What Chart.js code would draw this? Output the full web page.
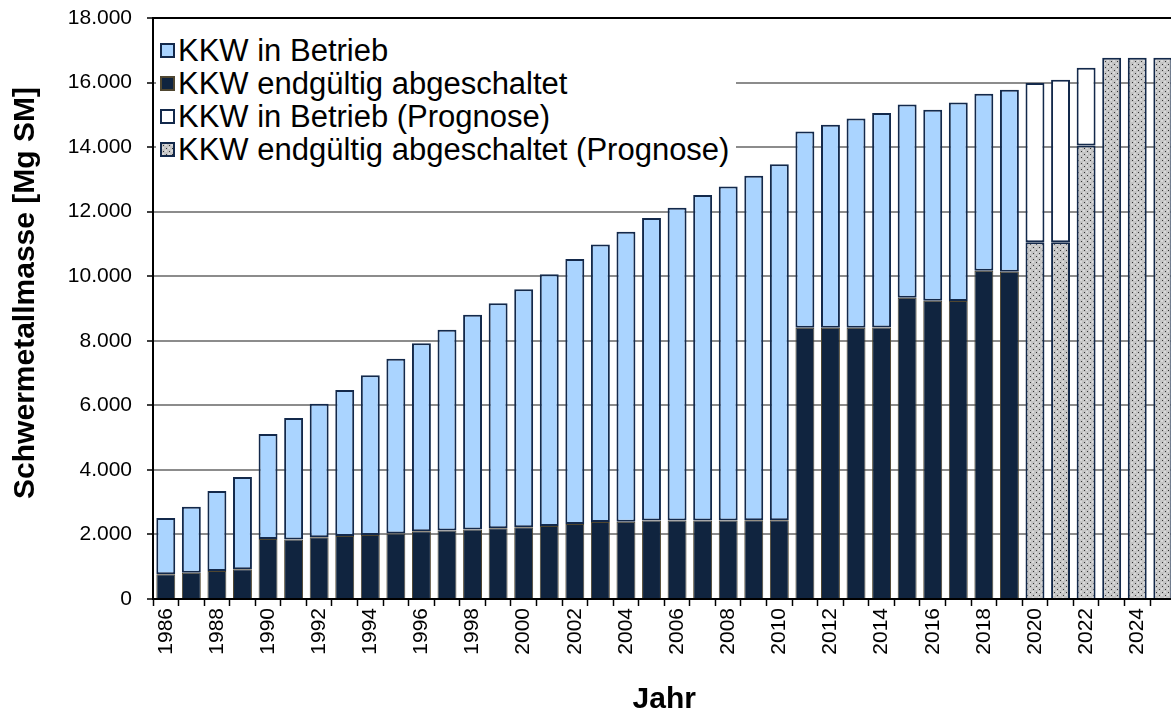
<!DOCTYPE html>
<html lang="de">
<head>
<meta charset="utf-8">
<title>Schwermetallmasse</title>
<script src="https://cdn.jsdelivr.net/npm/chart.js@4.4.1/dist/chart.umd.min.js"></script>
<style>
  html, body { margin: 0; padding: 0; background: #fff; overflow: hidden; }
  #wrap { position: relative; width: 1190px; height: 716px; }
  #smLegend {
    position: absolute;
    left: 156px;
    top: 21px;
    width: 580px;
    height: 162px;
    margin: 0;
    padding: 13px 0 0 4px;
    box-sizing: border-box;
    list-style: none;
    background: #fff;
    font: 31px "Liberation Sans", Arial, sans-serif;
    color: #000;
  }
  #smLegend li { display: flex; align-items: center; height: 33px; white-space: nowrap; }
  .sm-swatch { width: 11px; height: 11px; margin-right: 3px; border: 2px solid #13294b; flex: none; }
</style>
</head>
<body>
<div id="wrap">
  <canvas id="smChart" width="1190" height="716"></canvas>
  <ul id="smLegend"></ul>
</div>
<script>
// Schwermetallmasse abgebrannter Brennelemente, 1986-2019 plus Prognose bis 2025

const YEARS = [
  "1986", "1987", "1988", "1989", "1990", "1991", "1992", "1993", "1994", "1995",
  "1996", "1997", "1998", "1999", "2000", "2001", "2002", "2003", "2004", "2005",
  "2006", "2007", "2008", "2009", "2010", "2011", "2012", "2013", "2014", "2015",
  "2016", "2017", "2018", "2019"
];
const FORECAST_YEARS = ["2020", "2021", "2022", "2023", "2024", "2025"];

// Mg SM
const SHUTDOWN = [
  770, 815, 870, 920, 1860, 1845, 1910, 1950, 1985, 2030,
  2100, 2125, 2155, 2190, 2220, 2260, 2320, 2385, 2395, 2430,
  2430, 2430, 2435, 2440, 2440, 8400, 8400, 8400, 8410, 9330,
  9240, 9230, 10170, 10140
];
const OPERATING = [
  1740, 2045, 2475, 2860, 3250, 3765, 4140, 4525, 4945, 5410,
  5820, 6215, 6655, 6970, 7380, 7800, 8210, 8600, 8985, 9370,
  9695, 10085, 10345, 10670, 11030, 6085, 6290, 6485, 6650, 5990,
  5915, 6150, 5480, 5635
];
const SHUTDOWN_FORECAST = [11050, 11050, 14050, 16770, 16770, 16770];
const OPERATING_FORECAST = [4940, 5035, 2405, null, null, null];

const Y_MAX = 18000;
const Y_STEP = 2000;
const Y_TITLE = "Schwermetallmasse [Mg SM]";
const X_TITLE = "Jahr";

const FONT = '"Liberation Sans", Arial, sans-serif';
const NAVY = "#13294b";
const GRID_GRAY = "#8c8c8c";

// legend shows the series in this order (dataset indexes)
const LEGEND_ORDER = [1, 0, 3, 2];

function formatThousands(value) {
  return String(value).replace(/\B(?=(\d{3})+(?!\d))/g, ".");
}

function makeDotTile() {
  const tile = document.createElement("canvas");
  tile.width = 6;
  tile.height = 6;
  const t = tile.getContext("2d");
  t.fillStyle = "#c4c4c4";
  t.fillRect(0, 0, 6, 6);
  t.fillStyle = "#d8d8d8";
  t.fillRect(3, 0, 2, 2);
  t.fillRect(0, 3, 2, 2);
  t.fillStyle = "#333333";
  t.fillRect(1, 1, 1, 1);
  t.fillRect(4, 4, 1, 1);
  return tile;
}

const canvas = document.getElementById("smChart");
const ctx = canvas.getContext("2d");
const dotTile = makeDotTile();
const dotPattern = ctx.createPattern(dotTile, "repeat");

const labels = [...YEARS, ...FORECAST_YEARS];
const padHistory = (arr) => [...arr, ...FORECAST_YEARS.map(() => null)];
const padForecast = (arr) => [...YEARS.map(() => null), ...arr];

const datasets = [
  {
    label: "KKW endgültig abgeschaltet",
    data: padHistory(SHUTDOWN),
    backgroundColor: "#10243f",
    borderColor: "#4f4630",
    borderWidth: 1
  },
  {
    label: "KKW in Betrieb",
    data: padHistory(OPERATING),
    backgroundColor: "#aad4ff",
    borderColor: NAVY,
    borderWidth: 2,
    borderSkipped: false
  },
  {
    label: "KKW endgültig abgeschaltet (Prognose)",
    data: padForecast(SHUTDOWN_FORECAST),
    backgroundColor: dotPattern,
    borderColor: NAVY,
    borderWidth: 2
  },
  {
    label: "KKW in Betrieb (Prognose)",
    data: padForecast(OPERATING_FORECAST),
    backgroundColor: "#ffffff",
    borderColor: NAVY,
    borderWidth: 2,
    borderSkipped: false
  }
].map((ds) => ({ ...ds, stack: "sm", barPercentage: 0.74, categoryPercentage: 1 }));

// y title sits a bit above the middle of the plot, so it is drawn by hand
const yTitlePlugin = {
  id: "yTitle",
  afterDraw(chart) {
    const c = chart.ctx;
    c.save();
    c.translate(26, 293);
    c.rotate(-Math.PI / 2);
    c.font = `bold 30px ${FONT}`;
    c.fillStyle = "#000";
    c.textAlign = "center";
    c.textBaseline = "middle";
    c.fillText(Y_TITLE, 0, 0);
    c.restore();
  }
};

function renderLegend() {
  const legend = document.getElementById("smLegend");
  legend.innerHTML = "";
  LEGEND_ORDER.forEach((index) => {
    const ds = datasets[index];
    const item = document.createElement("li");
    const swatch = document.createElement("span");
    const text = document.createElement("span");
    swatch.className = "sm-swatch";
    swatch.style.borderColor = ds.borderColor;
    if (ds.backgroundColor === dotPattern) {
      swatch.style.backgroundImage = `url(${dotTile.toDataURL()})`;
    } else {
      swatch.style.backgroundColor = ds.backgroundColor;
    }
    text.textContent = ds.label;
    item.appendChild(swatch);
    item.appendChild(text);
    legend.appendChild(item);
  });
}

const smChart = new Chart(ctx, {
  type: "bar",
  data: { labels, datasets },
  plugins: [yTitlePlugin],
  options: {
    responsive: false,
    animation: false,
    layout: { padding: { top: 18, right: 0, bottom: 0, left: 0 } },
    plugins: {
      legend: { display: false },
      tooltip: { enabled: false }
    },
    scales: {
      x: {
        stacked: true,
        afterFit: (scale) => { scale.height = 117; },
        grid: {
          drawOnChartArea: false,
          drawTicks: true,
          tickLength: 7,
          tickColor: "#000",
          tickWidth: 1.5
        },
        border: { color: "#000", width: 2 },
        ticks: {
          autoSkip: false,
          minRotation: 90,
          maxRotation: 90,
          padding: 2,
          color: "#000",
          font: { family: FONT, size: 21 },
          callback: (value, index) => (index % 2 === 0 ? labels[index] : "")
        },
        title: {
          display: true,
          text: X_TITLE,
          color: "#000",
          font: { family: FONT, size: 30, weight: "bold", lineHeight: 1 },
          padding: { top: 0, bottom: 1 }
        }
      },
      y: {
        stacked: true,
        min: 0,
        max: Y_MAX,
        afterFit: (scale) => {
          scale.width = 153;
          scale.paddingTop = 0;
          scale.paddingBottom = 0;
        },
        grid: {
          color: (c) => (c.tick && c.tick.value === Y_MAX ? "#000" : GRID_GRAY),
          lineWidth: 2,
          drawTicks: true,
          tickLength: 6,
          tickColor: "#000",
          tickWidth: 1.5
        },
        border: { color: "#000", width: 2 },
        ticks: {
          stepSize: Y_STEP,
          padding: 15,
          color: "#000",
          font: { family: FONT, size: 21 },
          callback: (value) => formatThousands(value)
        },
        title: { display: false }
      }
    }
  }
});

console.log("chart area", JSON.stringify(smChart.chartArea));
renderLegend();
</script>
</body>
</html>
